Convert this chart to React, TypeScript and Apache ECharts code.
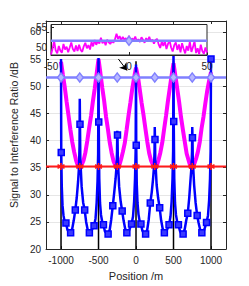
import React, { useEffect, useRef } from "react";
import * as echarts from "echarts";

// ---------- data ----------
const xTicks = [-1000, -500, 0, 500, 1000];
const yTicks = [20, 25, 30, 35, 40, 45, 50, 55, 60];
const insetXTicks = [-50, 0, 50];
const insetYTicks = [50, 55];

const apX = [-1000, -500, 0, 500, 1000];
const apLineTop = 54.6;
const markerX = [-1000, -750, -500, -250, 0, 250, 500, 750, 1000];
const redLevel = 35.2;
const lightBlueLevel = 51.6;

const magentaPoints: [number, number][] = [
  [-1000, 54.5], [-975, 52.1], [-950, 49.8], [-925, 47.1], [-900, 44.6], [-875, 42.0], [-850, 39.7], [-825, 37.9],
  [-800, 36.4], [-775, 35.3], [-750, 34.8], [-725, 35.5], [-700, 36.3], [-675, 37.8], [-650, 39.9], [-625, 42.3],
  [-600, 44.5], [-575, 47.2], [-550, 49.6], [-525, 52.3], [-500, 55.0], [-475, 52.4], [-450, 49.7], [-425, 47.3],
  [-400, 44.4], [-375, 42.1], [-350, 39.6], [-325, 37.7], [-300, 36.2], [-275, 35.4], [-250, 34.7], [-225, 35.3],
  [-200, 36.5], [-175, 37.9], [-150, 39.5], [-125, 42.0], [-100, 44.6], [-75, 47.0], [-50, 49.5], [-25, 51.6],
  [0, 53.4], [25, 51.8], [50, 49.4], [75, 46.9], [100, 44.7], [125, 42.2], [150, 39.8], [175, 37.7],
  [200, 36.3], [225, 35.5], [250, 34.9], [275, 35.2], [300, 36.4], [325, 37.8], [350, 39.6], [375, 42.1],
  [400, 44.5], [425, 47.2], [450, 49.6], [475, 52.0], [500, 54.2], [525, 51.9], [550, 49.5], [575, 47.1],
  [600, 44.3], [625, 42.0], [650, 39.8], [675, 37.6], [700, 36.4], [725, 35.2], [750, 34.8], [775, 35.6],
  [800, 36.6], [825, 37.9], [850, 39.7], [875, 42.3], [900, 44.4], [925, 46.9], [950, 49.2], [975, 51.0],
  [1000, 52.6],
];

const bluePoints: [number, number][] = [
  [-1000, 55], [-997, 37.8], [-990, 31.5], [-980, 28], [-967, 26.2], [-954, 25.2], [-934.5, 24.8], [-915, 23.6],
  [-895, 23.1], [-872, 23.0], [-850, 23.8], [-830, 25.3], [-809.5, 27.2], [-790, 29.5], [-772, 32.5], [-760, 35.2],
  [-753, 39], [-750, 47.7], [-747, 43], [-743, 37], [-738, 35.2], [-725, 31.5], [-705, 28.6], [-684.5, 27.2],
  [-665, 25], [-645, 23.6], [-622, 23.0], [-600, 23.2], [-580, 23.8], [-559.5, 24.3], [-540, 25.6], [-525, 28.5],
  [-513, 32.5], [-505, 37.5], [-500, 55.2],
  [-497, 43.4], [-490, 33], [-480, 28.5], [-467, 26.3], [-450, 25], [-434.5, 24.5], [-415, 23.3], [-395, 22.9],
  [-372, 22.8], [-350, 23.6], [-330, 25.5], [-309.5, 28.0], [-290, 30.5], [-272, 33], [-260, 35.2], [-253, 38],
  [-250, 41.8], [-247, 41], [-243, 37], [-238, 35.2], [-225, 31.5], [-205, 28.8], [-184.5, 27.0], [-165, 25.2],
  [-145, 23.8], [-122, 23.0], [-100, 23.2], [-80, 23.9], [-59.5, 24.6], [-40, 26], [-25, 28.8], [-13, 33],
  [-5, 38], [0, 54],
  [3, 39.1], [10, 32], [20, 28.5], [33, 26.4], [48, 25.2], [65.5, 24.6], [85, 23.4], [105, 22.9],
  [128, 22.8], [150, 23.6], [170, 25.5], [190.5, 28.5], [210, 30.5], [228, 33], [240, 35.2], [247, 38],
  [250, 42.5], [253, 40.2], [257, 36.5], [262, 35.2], [275, 31.8], [295, 29.4], [315.5, 27.6], [335, 25.3],
  [355, 23.8], [378, 23.0], [400, 23.2], [420, 23.8], [440.5, 24.5], [460, 26], [475, 28.8], [487, 33],
  [495, 38], [500, 56.5],
  [503, 43.5], [510, 33], [520, 28.5], [533, 26.3], [548, 25.1], [565.5, 24.5], [585, 23.4], [605, 22.8],
  [628, 22.8], [650, 23.7], [670, 25.3], [690.5, 26.6], [710, 29.5], [728, 33], [740, 35.2], [747, 38],
  [750, 42.5], [753, 40.5], [757, 36.5], [762, 35.2], [775, 31.8], [795, 28.5], [815.5, 26.2], [835, 24.8],
  [855, 23.6], [878, 23.0], [900, 23.2], [920, 24.0], [940.5, 24.9], [960, 26.2], [975, 29], [987, 33],
  [995, 38], [1000, 55],
];

const blueMarkerX = [
  -997, -934.5, -872, -809.5, -747, -684.5, -622, -559.5,
  -497, -434.5, -372, -309.5, -247, -184.5, -122, -59.5,
  3, 65.5, 128, 190.5, 253, 315.5, 378, 440.5,
  503, 565.5, 628, 690.5, 753, 815.5, 878, 940.5, 1000,
];

const insetMagentaPoints: [number, number][] = [
  [-50, 48.1], [-49, 49.6], [-48, 51.6], [-47, 49.2], [-46, 48.4], [-45, 50.3], [-44, 49.1], [-43, 48.6],
  [-42, 50.8], [-41, 49.4], [-40, 50.1], [-39, 48.7], [-38, 49.9], [-37, 51.2], [-36, 49.5], [-35, 48.9],
  [-34, 50.4], [-33, 49.0], [-32, 50.6], [-31, 49.3], [-30, 48.8], [-29, 50.2], [-28, 51.1], [-27, 49.7],
  [-26, 50.5], [-25, 49.4], [-24, 51.3], [-23, 50.2], [-22, 51.8], [-21, 50.6], [-20, 51.5], [-19, 50.9],
  [-18, 52.4], [-17, 51.0], [-16, 51.7], [-15, 50.5], [-14, 51.9], [-13, 51.2], [-12, 50.8], [-11, 51.6],
  [-10, 51.1], [-9, 52.0], [-8, 53.4], [-7, 52.1], [-6, 52.8], [-5, 51.7], [-4, 52.6], [-3, 51.9],
  [-2, 52.3], [-1, 51.6], [0, 52.9], [1, 51.4], [2, 52.2], [3, 51.8], [4, 52.7], [5, 51.5],
  [6, 52.0], [7, 51.3], [8, 52.5], [9, 51.9], [10, 51.1], [11, 52.3], [12, 51.6], [13, 52.6],
  [14, 51.4], [15, 51.9], [16, 50.9], [17, 51.8], [18, 52.1], [19, 50.7], [20, 49.8], [21, 51.4],
  [22, 50.3], [23, 51.6], [24, 49.5], [25, 50.8], [26, 51.7], [27, 49.9], [28, 48.9], [29, 50.5],
  [30, 51.2], [31, 49.3], [32, 50.7], [33, 48.7], [34, 51.0], [35, 49.6], [36, 48.4], [37, 50.3],
  [38, 49.1], [39, 51.4], [40, 48.8], [41, 50.0], [42, 51.5], [43, 48.5], [44, 49.7], [45, 48.2],
  [46, 50.6], [47, 49.0], [48, 48.3], [49, 49.9], [50, 48.6],
];
const insetLightBlueX = [-50, 0, 50];
const insetDiamondX = [0];

const arrowTail: [number, number] = [-235, 55];
const arrowHead: [number, number] = [-120, 52.9];

// ---------- component ----------
export default function App() {
  const ref = useRef<HTMLDivElement>(null);

  useEffect(() => {
    const chart = echarts.init(ref.current!, null, { renderer: "svg" });
    const font = "'Liberation Sans', Arial, Helvetica, sans-serif";
    const axisColor = "#262626";
    const blue = "#0000ff";
    const magenta = "#ff00ff";
    const red = "#ff1a1a";
    const lightBlue = "#8080ff";
    const asterisk = "path://M5,0 L5,10 M0.7,2.5 L9.3,7.5 M0.7,7.5 L9.3,2.5";
    const plain = (v: number) => String(v);

    const axisLine = { show: true, onZero: false, lineStyle: { color: axisColor, width: 1 } };
    const tick = (vals: number[]) => ({
      show: true, inside: true, length: 3, customValues: vals,
      lineStyle: { color: axisColor, width: 1 },
    });

    const redData: any[] = [{ value: [-1200, redLevel], symbol: "none" }]
      .concat(markerX.map((x) => ({ value: [x, redLevel], symbol: asterisk, symbolSize: 7 } as any)))
      .concat([{ value: [1200, redLevel], symbol: "none" }]);

    const lbData: any[] = [{ value: [-1200, lightBlueLevel], symbol: "none" } as any]
      .concat(markerX.map((x) => ({ value: [x, lightBlueLevel], symbol: "diamond", symbolSize: [7, 9] })))
      .concat([{ value: [1200, lightBlueLevel], symbol: "none" }]);

    const blueMarkerSet = new Set(blueMarkerX);
    const blueData = bluePoints.map((p) => ({
      value: p,
      symbol: blueMarkerSet.has(p[0]) ? "rect" : "none",
      symbolSize: 6,
    }));

    const insetLbData = insetLightBlueX.map((x) => ({
      value: [x, lightBlueLevel],
      symbol: insetDiamondX.includes(x) ? "diamond" : "none",
      symbolSize: [7, 9],
    }));

    const apSeries = apX.map((x, i) => ({
      type: "line",
      xAxisIndex: 0,
      yAxisIndex: 0,
      data: [[x, 20], [x, apLineTop]],
      showSymbol: false,
      lineStyle: { color: "#000000", width: 1.5 },
      z: 3,
      silent: true,
      ...(i === 0
        ? {
            markLine: {
              silent: true,
              symbol: ["none", "arrow"],
              symbolSize: 7,
              label: { show: false },
              lineStyle: { color: "#000000", width: 1, type: "solid" },
              data: [[{ coord: arrowTail }, { coord: arrowHead }]],
            },
          }
        : {}),
    }));

    const option: any = {
      animation: false,
      tooltip: { show: false },
      grid: [
        { left: 32, right: 23, top: 21, bottom: 32, show: false },
        {
          left: 51, top: 24.5, width: 156, height: 30.5, show: true,
          backgroundColor: "#ffffff", borderColor: axisColor, borderWidth: 1, z: 10,
        },
      ],
      xAxis: [
        {
          gridIndex: 0, type: "value", min: -1200, max: 1200, position: "bottom",
          axisLine, axisTick: tick(xTicks),
          axisLabel: {
            customValues: xTicks, formatter: plain, color: axisColor, fontSize: 10, fontFamily: font, margin: 6,
            showMinLabel: true, showMaxLabel: true,
          },
          splitLine: { show: false },
          name: "Position /m", nameLocation: "middle", nameGap: 20,
          nameTextStyle: { color: axisColor, fontSize: 11, fontFamily: font },
        },
        {
          gridIndex: 0, type: "value", min: -1200, max: 1200, position: "top",
          axisLine, axisTick: tick(xTicks), axisLabel: { show: false }, splitLine: { show: false },
        },
        {
          gridIndex: 1, type: "value", min: -50, max: 50, position: "bottom", z: 11,
          axisLine, axisTick: tick(insetXTicks),
          axisLabel: {
            customValues: insetXTicks, formatter: plain, color: axisColor, fontSize: 10, fontFamily: font, margin: 6,
            showMinLabel: true, showMaxLabel: true,
          },
          splitLine: { show: false },
        },
      ],
      yAxis: [
        {
          gridIndex: 0, type: "value", min: 20, max: 62, interval: 5, position: "left",
          axisLine, axisTick: tick(yTicks),
          axisLabel: { customValues: yTicks, formatter: plain, color: axisColor, fontSize: 10, fontFamily: font, margin: 5 },
          splitLine: { show: true, lineStyle: { color: "#e6e6e6", width: 1 } },
          name: "Signal to Interference Ratio /dB", nameLocation: "middle", nameGap: 16,
          nameTextStyle: { color: axisColor, fontSize: 10.5, fontFamily: font },
        },
        {
          gridIndex: 0, type: "value", min: 20, max: 62, interval: 5, position: "right",
          axisLine, axisTick: tick(yTicks), axisLabel: { show: false }, splitLine: { show: false },
        },
        {
          gridIndex: 1, type: "value", min: 48, max: 55.75, position: "left", z: 11,
          axisLine, axisTick: tick(insetYTicks),
          axisLabel: { customValues: insetYTicks, formatter: plain, color: axisColor, fontSize: 10, fontFamily: font, margin: 4 },
          splitLine: { show: false },
        },
      ],
      series: [
        {
          type: "line", xAxisIndex: 0, yAxisIndex: 0, data: magentaPoints, showSymbol: false,
          lineStyle: { color: magenta, width: 4 }, z: 2, silent: true,
        },
        ...apSeries,
        {
          type: "line", xAxisIndex: 0, yAxisIndex: 0, data: blueData, showSymbol: true,
          lineStyle: { color: blue, width: 2.5 },
          itemStyle: { color: "#3a3aff", borderColor: blue, borderWidth: 1.5 },
          z: 4, silent: true,
        },
        {
          type: "line", xAxisIndex: 0, yAxisIndex: 0, data: redData, showSymbol: true,
          lineStyle: { color: red, width: 2 },
          itemStyle: { color: red, borderColor: red, borderWidth: 1.6 },
          z: 5, silent: true,
        },
        {
          type: "line", xAxisIndex: 0, yAxisIndex: 0, data: lbData, showSymbol: true,
          lineStyle: { color: lightBlue, width: 2.5 },
          itemStyle: { color: "#b8b8ff", borderColor: lightBlue, borderWidth: 1.5 },
          z: 6, silent: true,
        },
        {
          type: "line", xAxisIndex: 2, yAxisIndex: 2, data: insetMagentaPoints, showSymbol: false,
          lineStyle: { color: magenta, width: 1.8 }, z: 12, silent: true,
        },
        {
          type: "line", xAxisIndex: 2, yAxisIndex: 2, data: insetLbData, showSymbol: true,
          lineStyle: { color: lightBlue, width: 2.5 },
          itemStyle: { color: "#b8b8ff", borderColor: lightBlue, borderWidth: 1.5 },
          z: 13, silent: true,
        },
      ],
    };

    chart.setOption(option);
    return () => chart.dispose();
  }, []);

  return (
    <div
      ref={ref}
      style={{ position: "absolute", left: 0, top: 0, width: 249, height: 286, background: "#ffffff" }}
    />
  );
}
